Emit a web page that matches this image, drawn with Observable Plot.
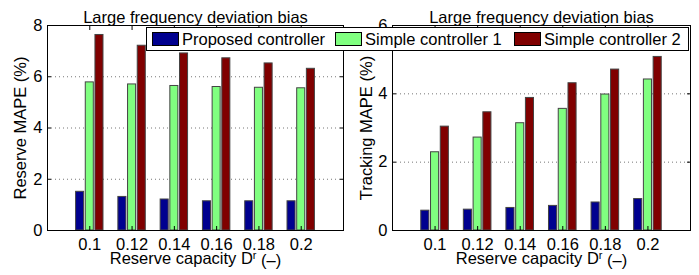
<!DOCTYPE html>
<html><head><meta charset="utf-8">
<script src="https://cdn.jsdelivr.net/npm/d3@7"></script>
<script src="https://cdn.jsdelivr.net/npm/@observablehq/plot@0.6"></script>
<style>
body{margin:0;background:#fff;font-family:"Liberation Sans",Arial,sans-serif;}
#wrap{position:relative;width:699px;height:275px;display:flex;overflow:hidden;}
#legend{position:absolute;left:146px;top:27px;width:543px;height:24px;border:1px solid #000;background:#fff;display:flex;align-items:center;font-size:16.5px;color:#000;box-sizing:border-box;padding-left:5px;}
.item{display:flex;align-items:center;white-space:nowrap;}
.sw{width:27px;height:14px;border:1px solid #000;margin-right:3px;box-sizing:border-box;}
</style></head><body><div id="wrap"></div>
<script>
const categories = ["0.1", "0.12", "0.14", "0.16", "0.18", "0.2"];
const series = ["Proposed controller", "Simple controller 1", "Simple controller 2"];
const colors = ["#00008F", "#80FF80", "#800000"];
const title = "Large frequency deviation bias";
const xLabelMain = "Reserve capacity D";
const xLabelSup = "r";
const xLabelEnd = " (–)";

const reserveProposed = [1.51, 1.31, 1.21, 1.14, 1.14, 1.14];
const reserveSimple1 = [5.78, 5.70, 5.64, 5.60, 5.57, 5.55];
const reserveSimple2 = [7.63, 7.21, 6.91, 6.72, 6.52, 6.31];
const reserveTicks = [0, 2, 4, 6, 8];

const trackingProposed = [0.58, 0.61, 0.66, 0.72, 0.82, 0.92];
const trackingSimple1 = [2.29, 2.72, 3.14, 3.56, 3.98, 4.42];
const trackingSimple2 = [3.04, 3.46, 3.88, 4.31, 4.71, 5.08];
const trackingTicks = [0, 2, 4, 6];

const FONT = '"Liberation Sans", Arial, sans-serif';

function chart({values, yTicks, yLabel, width, marginLeft, marginRight, yLabelDx}) {
  const yMax = yTicks[yTicks.length - 1];
  const rows = [];
  series.forEach((s, si) => values[si].forEach((v, ci) => rows.push({s, si, ci, v})));
  const step = 0.229, half = 0.095;
  const idx = d3.range(1, categories.length + 1);
  const svg = Plot.plot({
    width, height: 275, marginLeft, marginRight, marginTop: 25, marginBottom: 45,
    style: {fontFamily: FONT, fontSize: "16.5px", color: "#000", background: "transparent"},
    x: {domain: [0, categories.length + 1]},
    y: {domain: [0, yMax]},
    color: {domain: series, range: colors},
    marks: [
      Plot.ruleY(yTicks.filter(t => t > 0 && t < yMax), {stroke: "#777", strokeDasharray: "1,3"}),
      Plot.rect(rows, {
        x1: d => d.ci + 1 + (d.si - 1) * step - half,
        x2: d => d.ci + 1 + (d.si - 1) * step + half,
        y1: 0, y2: "v", fill: "s", stroke: "#444", strokeWidth: 1
      }),
      Plot.frame({stroke: "#000"}),
      Plot.axisY(yTicks, {anchor: "left", tickSize: -4, tickPadding: 9, label: null}),
      Plot.axisY(yTicks, {anchor: "right", tickSize: -4, tickFormat: () => "", label: null}),
      Plot.axisX(idx, {anchor: "bottom", tickSize: -4, tickPadding: 12, tickFormat: i => categories[i - 1], label: null}),
      Plot.axisX(idx, {anchor: "top", tickSize: -4, tickFormat: () => "", label: null}),
      Plot.text([title], {frameAnchor: "top", dy: -14}),
      Plot.text([yLabel], {frameAnchor: "left", textAnchor: "middle", rotate: -90, dx: yLabelDx}),
      Plot.text([xLabelMain + xLabelSup + xLabelEnd], {frameAnchor: "bottom", textAnchor: "middle", dy: 33})
    ]
  });
  d3.select(svg).selectAll("text").each(function () {
    if (this.textContent === xLabelMain + xLabelSup + xLabelEnd) {
      const t = d3.select(this);
      t.text(null);
      t.append("tspan").text(xLabelMain);
      t.append("tspan").attr("dy", "-0.45em").attr("font-size", "11px").text(xLabelSup);
      t.append("tspan").attr("dy", "0.45em").text(xLabelEnd);
    }
  });
  return svg;
}

const wrap = document.getElementById("wrap");
wrap.appendChild(chart({
  values: [reserveProposed, reserveSimple1, reserveSimple2],
  yTicks: reserveTicks, yLabel: "Reserve MAPE (%)",
  width: 350, marginLeft: 47, marginRight: 7, yLabelDx: -27
}));
wrap.appendChild(chart({
  values: [trackingProposed, trackingSimple1, trackingSimple2],
  yTicks: trackingTicks, yLabel: "Tracking MAPE (%)",
  width: 349, marginLeft: 42, marginRight: 9, yLabelDx: -26
}));

const legend = document.createElement("div");
legend.id = "legend";
const itemWidths = [183, 179, 170];
series.forEach((s, i) => {
  const it = document.createElement("div");
  it.className = "item";
  it.style.width = itemWidths[i] + "px";
  const sw = document.createElement("div");
  sw.className = "sw";
  sw.style.background = colors[i];
  const tx = document.createElement("span");
  tx.textContent = s;
  it.appendChild(sw);
  it.appendChild(tx);
  legend.appendChild(it);
});
wrap.appendChild(legend);
</script></body></html>
